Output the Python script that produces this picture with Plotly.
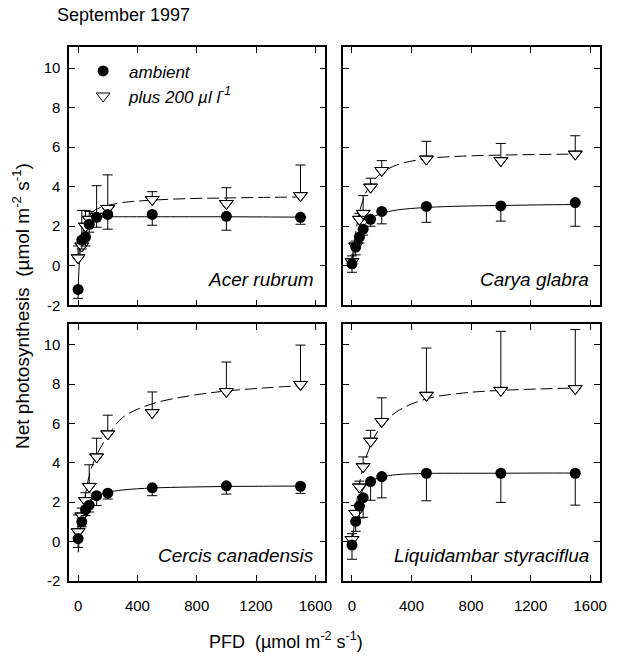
import plotly.graph_objects as go

# ---------------- data ----------------
PFD = [0, 25, 50, 75, 125, 200, 500, 1000, 1500]
FIT_PFD = [0, 10, 25, 50, 75, 100, 150, 200, 300, 500, 750, 1000, 1250, 1500]
X_TICKS = [0, 400, 800, 1200, 1600]
X_TICK_TEXT = ["0", "400", "800", "1200", "1600"]
Y_TICKS = [-2, 0, 2, 4, 6, 8, 10]
Y_TICK_TEXT = ["-2", "0", "2", "4", "6", "8", "10"]
SPECIES = ["Acer rubrum", "Carya glabra", "Cercis canadensis", "Liquidambar styraciflua"]

acer_amb = [-1.2, 1.3, 1.45, 2.1, 2.45, 2.6, 2.6, 2.5, 2.45]
acer_amb_err = [0.45, 0.45, 0.45, 0.4, 0.5, 0.75, 0.55, 0.7, 0.35]
acer_elev = [0.4, 1.0, 2.0, 2.35, 2.5, 2.9, 3.35, 3.15, 3.55]
acer_elev_err = [0.6, 1.8, 0.8, 0.4, 1.55, 1.7, 0.4, 0.8, 1.55]
acer_amb_fit = [-1.2, 0.3, 1.4, 2.1, 2.35, 2.43, 2.47, 2.48, 2.48, 2.48, 2.48, 2.48, 2.47, 2.46]
acer_elev_fit = [0.2, 0.9, 1.7, 2.3, 2.6, 2.75, 2.95, 3.05, 3.2, 3.32, 3.4, 3.43, 3.46, 3.48]

carya_amb = [0.1, 0.95, 1.45, 1.85, 2.35, 2.75, 3.0, 3.03, 3.2]
carya_amb_err = [0.43, 0.4, 0.3, 0.3, 0.35, 0.63, 0.8, 0.77, 1.2]
carya_elev = [0.2, 1.0, 2.35, 2.65, 3.98, 4.82, 5.4, 5.32, 5.65]
carya_elev_err = [0.3, 0.25, 0.3, 0.9, 0.45, 0.5, 0.9, 0.87, 0.93]
carya_amb_fit = [0.1, 0.5, 1.0, 1.6, 1.95, 2.2, 2.5, 2.65, 2.82, 2.95, 3.02, 3.05, 3.08, 3.1]
carya_elev_fit = [0.3, 0.9, 1.7, 2.7, 3.35, 3.8, 4.35, 4.7, 5.1, 5.42, 5.55, 5.6, 5.63, 5.65]

cercis_amb = [0.15, 1.0, 1.62, 1.85, 2.33, 2.46, 2.73, 2.83, 2.81]
cercis_amb_err = [0.45, 0.25, 0.3, 0.35, 0.5, 0.3, 0.4, 0.42, 0.36]
cercis_elev = [0.5, 1.3, 2.08, 2.8, 4.3, 5.47, 6.55, 7.62, 7.98]
cercis_elev_err = [0.85, 0.4, 0.4, 1.1, 0.95, 0.95, 1.05, 1.5, 2.0]
cercis_amb_fit = [0.0, 0.5, 1.05, 1.6, 1.95, 2.15, 2.38, 2.5, 2.62, 2.72, 2.77, 2.8, 2.81, 2.82]
cercis_elev_fit = [-0.55, 0.2, 1.2, 2.4, 3.35, 3.95, 4.75, 5.35, 6.3, 7.0, 7.4, 7.65, 7.8, 7.92]

liq_amb = [-0.18, 1.02, 1.8, 2.23, 3.05, 3.3, 3.47, 3.47, 3.47]
liq_amb_err = [0.72, 0.5, 0.6, 1.0, 0.95, 1.08, 1.4, 1.48, 1.62]
liq_elev = [0.1, 1.43, 2.77, 3.8, 5.1, 6.1, 7.43, 7.68, 7.77]
liq_elev_err = [0.3, 0.4, 0.3, 0.5, 0.55, 1.2, 2.4, 3.0, 3.0]
liq_amb_fit = [-0.2, 0.5, 1.3, 2.2, 2.65, 2.9, 3.15, 3.28, 3.4, 3.46, 3.47, 3.47, 3.48, 3.48]
liq_elev_fit = [0.0, 0.6, 1.6, 2.9, 3.8, 4.4, 5.3, 5.9, 6.6, 7.25, 7.55, 7.68, 7.75, 7.8]

panels = [
    (acer_amb, acer_amb_err, acer_elev, acer_elev_err, acer_amb_fit, acer_elev_fit),
    (carya_amb, carya_amb_err, carya_elev, carya_elev_err, carya_amb_fit, carya_elev_fit),
    (cercis_amb, cercis_amb_err, cercis_elev, cercis_elev_err, cercis_amb_fit, cercis_elev_fit),
    (liq_amb, liq_amb_err, liq_elev, liq_elev_err, liq_amb_fit, liq_elev_fit),
]

# ---------------- layout geometry ----------------
W, H = 617, 664
FONT = "Liberation Sans, Arial, sans-serif"
# panel boxes in pixels: (left, right, top, bottom)
boxes = [(70, 329, 48, 309), (347, 607, 48, 309), (70, 329, 328, 588), (347, 607, 328, 588)]

fig = go.Figure()

for i, (amb, amb_err, elev, elev_err, amb_fit, elev_fit) in enumerate(panels):
    ax = "" if i == 0 else str(i + 1)
    xa, ya = "x" + ax, "y" + ax
    first = i == 0
    fig.add_trace(go.Scatter(x=FIT_PFD, y=amb_fit, mode="lines", line=dict(color="black", width=1, shape="spline"),
                             xaxis=xa, yaxis=ya, showlegend=False, hoverinfo="skip"))
    fig.add_trace(go.Scatter(x=FIT_PFD, y=elev_fit, mode="lines",
                             line=dict(color="black", width=1, dash="12px,5px", shape="spline"),
                             xaxis=xa, yaxis=ya, showlegend=False, hoverinfo="skip"))
    fig.add_trace(go.Scatter(x=PFD, y=elev, mode="markers",
                             marker=dict(symbol="triangle-down", size=12, color="white", line=dict(color="black", width=1)),
                             error_y=dict(type="data", symmetric=False, array=elev_err, arrayminus=[0] * len(elev_err),
                                          color="black", thickness=1, width=5),
                             xaxis=xa, yaxis=ya, showlegend=False))
    fig.add_trace(go.Scatter(x=PFD, y=amb, mode="markers", name="<i>ambient</i>",
                             marker=dict(symbol="circle", size=11, color="black"),
                             error_y=dict(type="data", symmetric=False, array=[0] * len(amb_err), arrayminus=amb_err,
                                          color="black", thickness=1, width=5),
                             xaxis=xa, yaxis=ya, showlegend=first))
    fig.add_trace(go.Scatter(x=PFD, y=elev, mode="markers", name="<i>plus 200 µl l<sup>-1</sup></i>",
                             marker=dict(symbol="triangle-down-open", size=12, color="black", line=dict(width=1)),
                             xaxis=xa, yaxis=ya, showlegend=first, hoverinfo="skip"))

    l, r, t, b = boxes[i]
    axis_common = dict(showline=True, linecolor="black", linewidth=1.5, mirror="ticks", ticks="inside",
                       ticklen=6, tickwidth=1, tickcolor="black", showgrid=False, zeroline=False,
                       tickfont=dict(family=FONT, size=15, color="black"))
    fig.layout["xaxis" + ax] = dict(axis_common, domain=[l / W, r / W], anchor=ya, range=[-60, 1667],
                                    tickvals=X_TICKS, ticktext=X_TICK_TEXT, showticklabels=(i >= 2),
                                    ticklabelstandoff=10)
    fig.layout["yaxis" + ax] = dict(axis_common, domain=[1 - b / H, 1 - t / H], anchor=xa, range=[-2, 11.05],
                                    tickvals=Y_TICKS, ticktext=Y_TICK_TEXT, showticklabels=(i % 2 == 0),
                                    ticklabelstandoff=4)
    fig.add_annotation(text="<i>" + SPECIES[i] + "</i>", xref=xa + " domain", yref=ya + " domain",
                       x=0.965, y=0.10, xanchor="right", yanchor="middle", showarrow=False,
                       font=dict(family=FONT, size=19, color="black"))

fig.add_annotation(text="September 1997", xref="paper", yref="paper", x=56 / W, y=1 - 15 / H,
                   xanchor="left", yanchor="middle", showarrow=False, font=dict(family=FONT, size=18, color="black"))
fig.add_annotation(text="Net photosynthesis\u00a0\u00a0(µmol m<sup>-2</sup> s<sup>-1</sup>)", xref="paper", yref="paper",
                   x=22 / W, y=1 - 310 / H, textangle=-90, xanchor="center", yanchor="middle", showarrow=False,
                   font=dict(family=FONT, size=19, color="black"))
fig.add_annotation(text="PFD\u00a0\u00a0(µmol m<sup>-2</sup> s<sup>-1</sup>)", xref="paper", yref="paper",
                   x=289 / W, y=1 - 648 / H, xanchor="center", yanchor="middle", showarrow=False,
                   font=dict(family=FONT, size=18, color="black"))

fig.update_layout(
    width=W, height=H, margin=dict(l=0, r=0, t=0, b=0),
    paper_bgcolor="white", plot_bgcolor="white",
    legend=dict(x=78 / W, y=1 - 54 / H, xanchor="left", yanchor="top", bgcolor="rgba(0,0,0,0)",
                font=dict(family=FONT, size=17, color="black"), tracegroupgap=0, itemwidth=42),
)

fig.write_html("out.html", config={"displayModeBar": False},
               post_script="document.body.style.margin='0';document.body.style.overflow='hidden';")
